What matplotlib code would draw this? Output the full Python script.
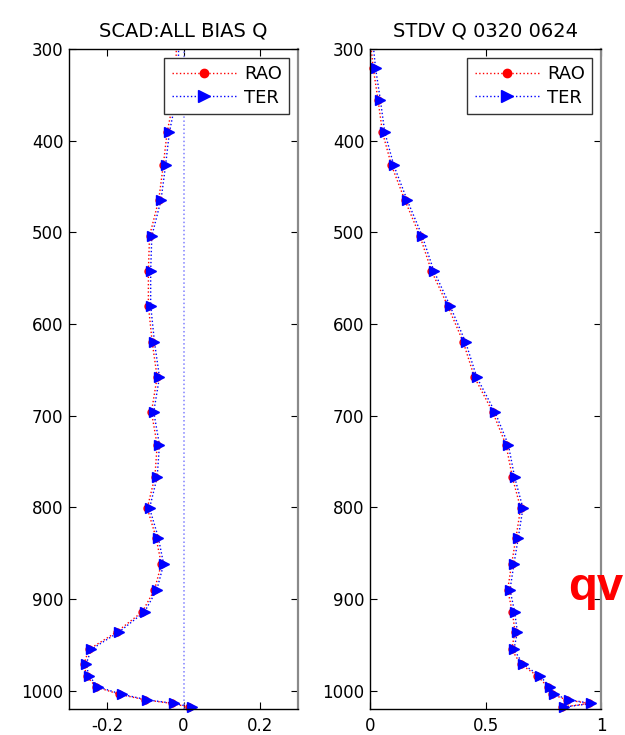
import numpy as np
import matplotlib
matplotlib.use('Agg')
import matplotlib.pyplot as plt
from matplotlib.lines import Line2D

plt.rcParams.update({"font.family": ["DejaVu Sans"], "axes.unicode_minus": False})

# pressure levels (hPa)
levels = [286, 321, 356, 391, 427, 465, 504, 542, 580, 620, 658, 696, 732, 767,
          801, 833, 862, 890, 914, 936, 955, 971, 984, 996, 1004, 1010, 1014, 1018]

# left panel: bias of Q
bias_ter = [-0.012, -0.014, -0.020, -0.037, -0.047, -0.059, -0.083, -0.086, -0.086, -0.076,
            -0.063, -0.078, -0.063, -0.069, -0.089, -0.066, -0.052, -0.070, -0.102, -0.169,
            -0.242, -0.255, -0.248, -0.223, -0.162, -0.095, -0.024, 0.021]
bias_rao = [-0.018, -0.020, -0.026, -0.043, -0.053, -0.065, -0.089, -0.092, -0.092, -0.082,
            -0.069, -0.084, -0.069, -0.075, -0.095, -0.072, -0.058, -0.076, -0.108, -0.175,
            -0.248, -0.261, -0.254, -0.229, -0.168, -0.101, -0.030, 0.015]

# right panel: standard deviation of Q
stdv_ter = [0.010, 0.024, 0.045, 0.064, 0.103, 0.161, 0.226, 0.276, 0.346, 0.414,
            0.462, 0.541, 0.599, 0.626, 0.662, 0.642, 0.623, 0.606, 0.626, 0.638,
            0.623, 0.662, 0.735, 0.780, 0.797, 0.862, 0.958, 0.840]
stdv_rao = [0.000, 0.014, 0.035, 0.054, 0.093, 0.151, 0.216, 0.266, 0.336, 0.404,
            0.452, 0.531, 0.589, 0.616, 0.652, 0.632, 0.613, 0.596, 0.616, 0.628,
            0.613, 0.652, 0.725, 0.770, 0.787, 0.852, 0.948, 0.830]

titles = ["SCAD:ALL BIAS Q", "STDV Q 0320 0624"]
xticks = [[-0.2, 0, 0.2], [0, 0.5, 1]]
xticklabels = [["-0.2", "0", "0.2"], ["0", "0.5", "1"]]
xlims = [(-0.3, 0.3), (0, 1)]
yticks = [300, 400, 500, 600, 700, 800, 900, 1000]

fig = plt.figure(figsize=(6.25, 7.35), dpi=100)
ax1 = fig.add_axes([0.1104, 0.0354, 0.3664, 0.898])
ax2 = fig.add_axes([0.592, 0.0354, 0.3696, 0.898])

lev = np.array(levels)
inside = lev >= 300

panels = [(ax1, bias_rao, bias_ter), (ax2, stdv_rao, stdv_ter)]
for i, (ax, rao, ter) in enumerate(panels):
    rao = np.array(rao)
    ter = np.array(ter)
    if i == 0:
        ax.axvline(0, color=(0.5, 0.5, 1.0), linestyle=':', linewidth=1.1)
    # dotted connecting lines (clipped)
    ax.plot(rao, lev, color='red', linestyle=':', linewidth=1)
    ax.plot(ter, lev, color='blue', linestyle=':', linewidth=1)
    # markers (not clipped at the bottom edge)
    ax.plot(rao[inside], lev[inside], linestyle='none', marker='o', markersize=5,
            color='red', clip_on=False, zorder=2)
    ax.plot(ter[inside], lev[inside], linestyle='none', marker='>', markersize=7.5,
            color='blue', clip_on=False, zorder=2)

    ax.set_xlim(*xlims[i])
    ax.set_ylim(1020, 300)
    ax.set_xticks(xticks[i])
    ax.set_xticklabels(xticklabels[i])
    ax.set_yticks(yticks)
    ax.tick_params(direction='in', length=5, labelsize=12, top=True, right=True)
    ax.tick_params(axis='y', pad=4)
    ax.tick_params(axis='x', pad=6)
    ax.set_title(titles[i], fontsize=14, pad=9)
    for s in ['left', 'top', 'bottom']:
        ax.spines[s].set_linewidth(1)
    ax.spines['right'].set_color('#8a8a8a')
    ax.spines['right'].set_linewidth(1.6)

    handles = [
        Line2D([], [], color='red', linestyle=':', linewidth=1, marker='o', markersize=6),
        Line2D([], [], color='blue', linestyle=':', linewidth=1, marker='>', markersize=8),
    ]
    leg = ax.legend(handles, ["RAO", "TER"], loc='upper right', fontsize=13,
                    fancybox=False, framealpha=1, edgecolor='#333333',
                    handlelength=3.6, borderaxespad=0.5, borderpad=0.4,
                    labelspacing=0.3, handletextpad=0.4)
    leg.get_frame().set_linewidth(1)
    leg.set_zorder(10)

fig.text(0.909, 0.1837, "qv", color='red', fontsize=34, fontweight='bold',
         family='Liberation Sans', ha='left', va='baseline')

fig.savefig("out.png", dpi=100)
